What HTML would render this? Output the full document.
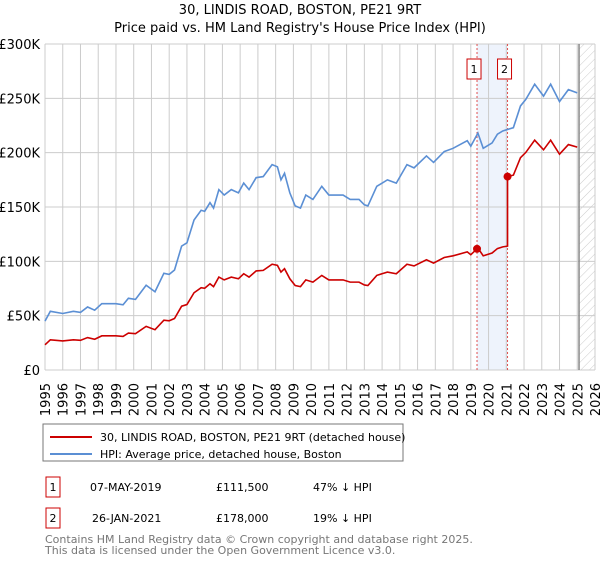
<!DOCTYPE html>
<html><head><meta charset="utf-8"><style>
body{margin:0;background:#fff;font-family:"DejaVu Sans","Liberation Sans",sans-serif}
svg text{font-family:"DejaVu Sans","Liberation Sans",sans-serif}
</style></head><body>
<svg id="c" width="600" height="560" xmlns="http://www.w3.org/2000/svg">
<defs><pattern id="hatch" width="6" height="6" patternUnits="userSpaceOnUse" patternTransform="rotate(45)"><line x1="0" y1="0" x2="0" y2="6" stroke="#ccc" stroke-width="1"/></pattern></defs>
<text x="300" y="14" text-anchor="middle" font-size="13">30, LINDIS ROAD, BOSTON, PE21 9RT</text>
<text x="300" y="32" text-anchor="middle" font-size="13">Price paid vs. HM Land Registry's House Price Index (HPI)</text>
<g id="plot"></g>
<rect x="43" y="424" width="360" height="37" fill="#fff" stroke="#777"/>
<line x1="50" y1="437" x2="92" y2="437" stroke="#cc0000" stroke-width="2"/>
<text x="100" y="441" font-size="11">30, LINDIS ROAD, BOSTON, PE21 9RT (detached house)</text>
<line x1="50" y1="454" x2="92" y2="454" stroke="#5b8fd4" stroke-width="2"/>
<text x="100" y="458" font-size="11">HPI: Average price, detached house, Boston</text>
<g>
<rect x="46" y="477" width="14" height="20" fill="#fff" stroke="#cc0000"/>
<text x="53" y="491" text-anchor="middle" font-size="11">1</text>
<text x="90" y="491" font-size="11">07-MAY-2019</text>
<text x="216" y="491" font-size="11">£111,500</text>
<text x="313" y="491" font-size="11">47% ↓ HPI</text></g>
<g>
<rect x="46" y="508" width="14" height="20" fill="#fff" stroke="#cc0000"/>
<text x="53" y="522" text-anchor="middle" font-size="11">2</text>
<text x="92" y="522" font-size="11">26-JAN-2021</text>
<text x="216" y="522" font-size="11">£178,000</text>
<text x="313" y="522" font-size="11">19% ↓ HPI</text></g>
<text x="45" y="543" font-size="11" fill="#777">Contains HM Land Registry data © Crown copyright and database right 2025.</text>
<text x="45" y="554" font-size="11" fill="#777">This data is licensed under the Open Government Licence v3.0.</text>
</svg>
<script>
const hpiYears=[1995.0,1995.3,1996,1996.6,1997,1997.4,1997.8,1998.2,1999,1999.4,1999.7,2000.1,2000.7,2001.2,2001.7,2002.0,2002.3,2002.7,2003.0,2003.4,2003.8,2004.0,2004.3,2004.5,2004.8,2005.1,2005.5,2005.9,2006.2,2006.5,2006.9,2007.3,2007.8,2008.1,2008.3,2008.5,2008.8,2009.1,2009.4,2009.7,2010.1,2010.6,2011.0,2011.8,2012.2,2012.7,2013.0,2013.2,2013.7,2014.3,2014.8,2015.4,2015.8,2016.5,2016.9,2017.5,2018.0,2018.8,2019.0,2019.4,2019.7,2020.2,2020.5,2020.8,2021.4,2021.8,2022.1,2022.6,2023.1,2023.5,2024.0,2024.5,2025.0];
const hpiValues=[45,54,52,54,53,58,55,61,61,60,66,65,78,72,89,88,92,114,117,138,147,146,154,149,166,161,166,163,172,166,177,178,189,187,175,181,163,151,149,161,157,169,161,161,157,157,152,151,169,175,172,189,186,197,191,201,204,211,206,218,204,209,217,220,223,243,249,263,252,263,247,258,255];
const saleYears=[2019.35,2021.07];
const salePrices=[111.5,178];
const saleLabels=["1","2"];
const yTicks=[0,50,100,150,200,250,300];
const yTickLabels=["£0","£50K","£100K","£150K","£200K","£250K","£300K"];
const xStart=1995,xEnd=2026,dataEnd=2025.1;
const L=45,R=595,T=44,B=370;
const X=y=>L+(y-xStart)/(xEnd-xStart)*(R-L);
const Y=v=>B-v/300*(B-T);
const NS="http://www.w3.org/2000/svg";
const g=document.getElementById('plot');
function mk(t,a,p){const e=document.createElementNS(NS,t);for(const k in a)e.setAttribute(k,a[k]);(p||g).appendChild(e);return e;}
function hpiAt(y){for(let i=1;i<hpiYears.length;i++){if(y<=hpiYears[i]){const f=(y-hpiYears[i-1])/(hpiYears[i]-hpiYears[i-1]);return hpiValues[i-1]+f*(hpiValues[i]-hpiValues[i-1]);}}return hpiValues[hpiValues.length-1];}
let e=mk('rect',{x:X(saleYears[0]),y:T,width:X(saleYears[1])-X(saleYears[0]),height:B-T,fill:'#eef3fc'});


e=mk('rect',{x:X(dataEnd),y:T,width:R-X(dataEnd),height:B-T,fill:'url(#hatch)'});


for(let yr=xStart;yr<=xEnd;yr++){
 e=mk('line',{x1:X(yr),x2:X(yr),y1:T,y2:B,stroke:'#ccc','stroke-width':1});
 
 
 e=mk('text',{x:0,y:0,'font-size':13,'text-anchor':'end',transform:`translate(${X(yr)+5},383) rotate(-90)`});
 e.textContent=yr;
 
 
}
yTicks.forEach((v,i)=>{
 e=mk('line',{x1:L,x2:R,y1:Y(v),y2:Y(v),stroke:'#ccc','stroke-width':1});
 
 
 e=mk('text',{x:40,y:Y(v)+5,'font-size':13,'text-anchor':'end'});
 e.textContent=yTickLabels[i];
 
 
});
e=mk('line',{x1:X(dataEnd),x2:X(dataEnd),y1:T,y2:B,stroke:'#888','stroke-width':1.5});


saleYears.forEach((s,i)=>{
 e=mk('line',{x1:X(s),x2:X(s),y1:T,y2:B,stroke:'#e05050','stroke-width':1,'stroke-dasharray':'2,2'});
 
 
});
e=mk('polyline',{points:hpiYears.map((y,i)=>X(y)+','+Y(hpiValues[i])).join(' '),fill:'none',stroke:'#5b8fd4','stroke-width':1.6});


const pts=[];
function prop(y){if(y<saleYears[1]){return salePrices[0]*hpiAt(y)/hpiAt(saleYears[0]);}return salePrices[1]*hpiAt(y)/hpiAt(saleYears[1]);}
const all=hpiYears.filter(y=>y<saleYears[1]).concat([saleYears[0]]).sort((a,b)=>a-b);
all.forEach(y=>pts.push([y,prop(y)]));
pts.push([saleYears[1],prop(saleYears[1]-0.001)]);
pts.push([saleYears[1],salePrices[1]]);
hpiYears.filter(y=>y>=saleYears[1]).forEach(y=>pts.push([y,prop(y)]));
e=mk('polyline',{points:pts.map(p=>X(p[0])+','+Y(p[1])).join(' '),fill:'none',stroke:'#cc0000','stroke-width':1.6});


saleYears.forEach((s,i)=>{
 e=mk('circle',{cx:X(s),cy:Y(salePrices[i]),r:4,fill:'#cc0000'});
 
 
 const bx=X(s)+(i==0?-10:-10);
 e=mk('rect',{x:bx,y:59,width:14,height:20,fill:'#fff',stroke:'#cc0000'});
 
 
 e=mk('text',{x:bx+7,y:73,'font-size':11,'text-anchor':'middle'});
 e.textContent=saleLabels[i];
 
 
});
</script>
</body></html>
